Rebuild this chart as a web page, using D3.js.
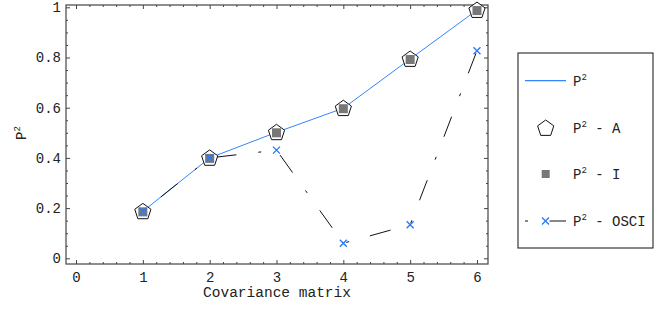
<!DOCTYPE html>
<html>
<head>
<meta charset="utf-8">
<script src="https://d3js.org/d3.v7.min.js"></script>
<style>
body { margin: 0; background: #fff; }
.tick line { stroke: #444; }
.domain { stroke: none; }
</style>
</head>
<body>
<div id="chart"></div>
<script>
// data
var matrices = [1, 2, 3, 4, 5, 6];
var p2 = [0.187, 0.400, 0.502, 0.598, 0.794, 0.989];
var p2A = [0.187, 0.400, 0.502, 0.598, 0.794, 0.989];
var p2I = [0.187, 0.400, 0.502, 0.598, 0.794, 0.989];
var p2OSCI = [0.187, 0.400, 0.431, 0.060, 0.134, 0.827];
var xTicks = [0, 1, 2, 3, 4, 5, 6];
var yTicks = [0, 0.2, 0.4, 0.6, 0.8, 1];

var blue = "#3385ff";
var crossBlue = "#2a7aff";
var mono = "'Liberation Mono', 'Courier New', 'DejaVu Sans Mono', monospace";

var svg = d3.select("#chart").append("svg")
    .attr("width", 671)
    .attr("height", 309);

var x = d3.scaleLinear().domain([-0.15, 6.165]).range([66, 488]);
var y = d3.scaleLinear().domain([-0.0227, 1.0092]).range([264, 5]);

var minorX = d3.range(0, 6.17, 0.2).filter(function(v){ return Math.abs(v - Math.round(v)) > 0.01; });
var minorY = d3.range(0, 1.001, 0.05).filter(function(v){ return Math.abs(v*5 - Math.round(v*5)) > 0.01; });

// frame
svg.append("rect")
    .attr("x", 66).attr("y", 5)
    .attr("width", 488 - 66).attr("height", 264 - 5)
    .attr("fill", "none").attr("stroke", "#444").attr("stroke-width", 1.2);

// bottom axis
var gx = svg.append("g").attr("transform", "translate(0,264)")
    .call(d3.axisBottom(x).tickValues(xTicks).tickSize(-4).tickPadding(8).tickFormat(d3.format("d")));
gx.selectAll("text").style("font-size", "14px").style("font-family", mono).attr("fill", "#222");
svg.append("g").attr("transform", "translate(0,264)")
    .call(d3.axisBottom(x).tickValues(minorX).tickSize(-2).tickFormat(""));
// top axis
svg.append("g").attr("transform", "translate(0,5)")
    .call(d3.axisTop(x).tickValues(xTicks).tickSize(-4).tickFormat(""));
svg.append("g").attr("transform", "translate(0,5)")
    .call(d3.axisTop(x).tickValues(minorX).tickSize(-2).tickFormat(""));

// left axis
var gy = svg.append("g").attr("transform", "translate(66,0)")
    .call(d3.axisLeft(y).tickValues(yTicks).tickSize(-4).tickPadding(5)
        .tickFormat(function(d){ return (d === 0 || d === 1) ? String(d) : d.toFixed(1); }));
gy.selectAll("text").style("font-size", "14px").style("font-family", mono).attr("fill", "#222");
svg.append("g").attr("transform", "translate(66,0)")
    .call(d3.axisLeft(y).tickValues(minorY).tickSize(-2).tickFormat(""));
// right axis
svg.append("g").attr("transform", "translate(488,0)")
    .call(d3.axisRight(y).tickValues(yTicks).tickSize(-4).tickFormat(""));
svg.append("g").attr("transform", "translate(488,0)")
    .call(d3.axisRight(y).tickValues(minorY).tickSize(-2).tickFormat(""));

// axis labels
svg.append("text")
    .attr("x", 277).attr("y", 297)
    .attr("text-anchor", "middle")
    .style("font-family", mono)
    .style("font-size", "14.5px")
    .attr("fill", "#222")
    .text("Covariance matrix");

var yl = svg.append("text")
    .attr("transform", "translate(26,133) rotate(-90)")
    .attr("text-anchor", "middle")
    .style("font-family", mono)
    .attr("fill", "#222")
    .style("font-size", "14px");
yl.append("tspan").text("P");
yl.append("tspan").attr("dy", -6).style("font-size", "9px").text("2");

// lines
var line = d3.line()
    .x(function(d, i){ return x(matrices[i]); })
    .y(function(d){ return y(d); });

svg.append("path")
    .datum(p2)
    .attr("d", line)
    .attr("fill", "none")
    .attr("stroke", blue)
    .attr("stroke-width", 1);

svg.append("path")
    .datum(p2OSCI)
    .attr("d", line)
    .attr("fill", "none")
    .attr("stroke", "#111")
    .attr("stroke-width", 1)
    .attr("stroke-dasharray", "21.5,22,3,21.5")
    .attr("stroke-dashoffset", 45);

// markers
var pentagon = function(cx, cy, r) {
    var pts = d3.range(5).map(function(k){
        var a = -Math.PI / 2 + k * 2 * Math.PI / 5;
        return [cx + r * Math.cos(a), cy + r * Math.sin(a)];
    });
    return "M" + pts.join("L") + "Z";
};
var cross = function(cx, cy, r) {
    return "M" + (cx - r) + "," + (cy - r) + "L" + (cx + r) + "," + (cy + r) +
           "M" + (cx - r) + "," + (cy + r) + "L" + (cx + r) + "," + (cy - r);
};

svg.selectAll(".pA").data(p2A).enter().append("path")
    .attr("class", "pA")
    .attr("d", function(d, i){ return pentagon(x(matrices[i]), y(d) + 0.5, 8.5); })
    .attr("fill", "#fff").attr("stroke", "#111").attr("stroke-width", 1);

svg.selectAll(".pI").data(p2I).enter().append("rect")
    .attr("class", "pI")
    .attr("x", function(d, i){ return x(matrices[i]) - 4.5; })
    .attr("y", function(d){ return y(d) - 4; })
    .attr("width", 9).attr("height", 9)
    .attr("fill", "#777");

svg.selectAll(".pO").data(p2OSCI).enter().append("path")
    .attr("class", "pO")
    .attr("d", function(d, i){ return cross(x(matrices[i]), y(d), 3.5); })
    .attr("fill", "none").attr("stroke", crossBlue).attr("stroke-width", 1.4);

// legend
var lg = svg.append("g");
lg.append("rect")
    .attr("x", 518).attr("y", 53).attr("width", 135).attr("height", 195)
    .attr("fill", "#fff").attr("stroke", "#111").attr("stroke-width", 1);

var legendRows = [
    {label: "", y: 80.7},
    {label: " - A", y: 128},
    {label: " - I", y: 174},
    {label: " - OSCI", y: 221}
];

lg.append("line").attr("x1", 525).attr("x2", 566).attr("y1", 80.7).attr("y2", 80.7)
    .attr("stroke", blue).attr("stroke-width", 1.2);
lg.append("path").attr("d", pentagon(545.7, 128.5, 8.5))
    .attr("fill", "#fff").attr("stroke", "#111").attr("stroke-width", 1);
lg.append("rect").attr("x", 541.7).attr("y", 170).attr("width", 8).attr("height", 8)
    .attr("fill", "#777");
lg.append("line").attr("x1", 525).attr("x2", 566).attr("y1", 221).attr("y2", 221)
    .attr("stroke", "#111").attr("stroke-width", 1)
    .attr("stroke-dasharray", "21.5,22,3,21.5")
    .attr("stroke-dashoffset", 43.5);
lg.append("path").attr("d", cross(545.5, 221, 3.5))
    .attr("fill", "none").attr("stroke", crossBlue).attr("stroke-width", 1.4);

legendRows.forEach(function(r){
    var t = lg.append("text").attr("x", 573).attr("y", r.y + 5)
        .style("font-family", mono).attr("fill", "#222").style("font-size", "14px");
    t.append("tspan").text("P");
    t.append("tspan").attr("dy", -6).style("font-size", "9px").text("2");
    if (r.label) t.append("tspan").attr("dy", 6).style("white-space", "pre").text(r.label);
});
</script>
</body>
</html>
